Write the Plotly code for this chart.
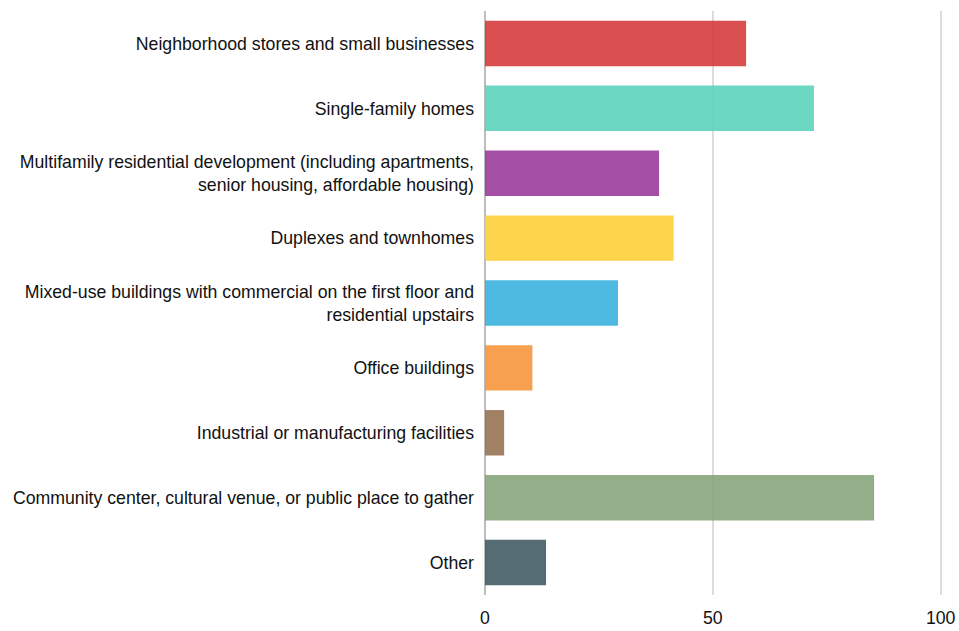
import plotly.graph_objects as go

categories = [
    "Neighborhood stores and small businesses",
    "Single-family homes",
    "Multifamily residential development (including apartments,<br>senior housing, affordable housing)",
    "Duplexes and townhomes",
    "Mixed-use buildings with commercial on the first floor and<br>residential upstairs",
    "Office buildings",
    "Industrial or manufacturing facilities",
    "Community center, cultural venue, or public place to gather",
    "Other",
]
values = [57.3, 72.2, 38.2, 41.4, 29.2, 10.4, 4.2, 85.4, 13.4]
bar_colors = ["#D43637", "#58D3BA", "#983599", "#FFCE34", "#36B1DE",
              "#F59338", "#936F4F", "#85A37A", "#3E5860"]
x_ticks = [0, 50, 100]

fig = go.Figure(
    go.Bar(
        x=values,
        y=categories,
        orientation="h",
        marker=dict(color=bar_colors, opacity=0.88, line=dict(width=0)),
        hoverinfo="x+y",
    )
)

fig.update_layout(
    width=959,
    height=631,
    margin=dict(l=485, r=17, t=11, b=36),
    paper_bgcolor="white",
    plot_bgcolor="white",
    bargap=0.3,
    showlegend=False,
    font=dict(family="Liberation Sans, Arial, sans-serif", size=17.7, color="#111111"),
)
fig.update_xaxes(
    range=[0, 100.3],
    tickvals=x_ticks,
    showgrid=True,
    gridcolor="#dcdcdc",
    gridwidth=2,
    zeroline=True,
    zerolinecolor="#bdbdbd",
    zerolinewidth=2,
    showline=False,
    ticks="",
    ticklabelstandoff=10,
    automargin=False,
)
fig.update_yaxes(
    autorange="reversed",
    showgrid=False,
    showline=False,
    ticks="",
    ticklabelstandoff=10,
    automargin=False,
)

fig.write_html(
    "out.html",
    config={"displayModeBar": False},
    post_script="document.body.style.margin='0';document.body.style.overflow='hidden';",
)
